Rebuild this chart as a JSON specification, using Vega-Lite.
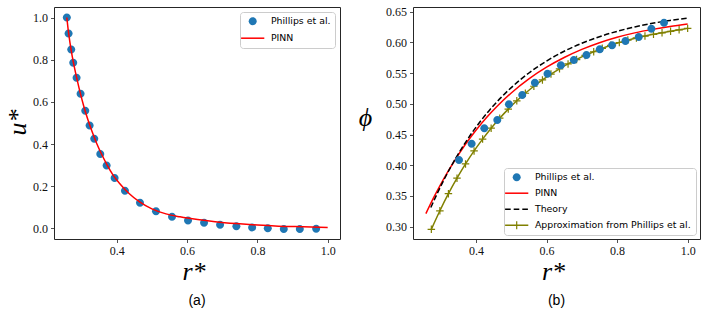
{
  "$schema": "https://vega.github.io/schema/vega-lite/v6.json",
  "padding": {"left": 3, "top": 5, "right": 0, "bottom": 0},
  "bounds": "flush",
  "spacing": 73,
  "config": {
    "view": {"stroke": "#262626", "strokeWidth": 1},
    "axis": {
      "labelFont": "Liberation Serif", "labelFontSize": 12, "labelColor": "#111111",
      "tickColor": "#262626", "tickSize": 3.5, "tickWidth": 0.8, "domain": false, "grid": false,
      "labelPadding": 3, "labelOverlap": false,
      "titleFont": "Liberation Serif", "titleFontStyle": "italic", "titleFontWeight": "normal",
      "titleFontSize": 26, "titleColor": "#000000"
    },
    "title": {"font": "Liberation Sans", "fontSize": 14, "fontWeight": "normal", "color": "#000000"}
  },
  "resolve": {
    "scale": {"color": "independent", "shape": "independent"},
    "legend": {"color": "independent", "shape": "independent"}
  },
  "datasets": {
    "u_phillips": [
      {"r": 0.258, "v": 1.0, "sa": "Phillips et al."},
      {"r": 0.263, "v": 0.924, "sa": "Phillips et al."},
      {"r": 0.2705, "v": 0.848, "sa": "Phillips et al."},
      {"r": 0.2762, "v": 0.786, "sa": "Phillips et al."},
      {"r": 0.2857, "v": 0.715, "sa": "Phillips et al."},
      {"r": 0.2971, "v": 0.639, "sa": "Phillips et al."},
      {"r": 0.3104, "v": 0.558, "sa": "Phillips et al."},
      {"r": 0.3228, "v": 0.488, "sa": "Phillips et al."},
      {"r": 0.336, "v": 0.425, "sa": "Phillips et al."},
      {"r": 0.3531, "v": 0.353, "sa": "Phillips et al."},
      {"r": 0.3712, "v": 0.298, "sa": "Phillips et al."},
      {"r": 0.3939, "v": 0.239, "sa": "Phillips et al."},
      {"r": 0.4233, "v": 0.179, "sa": "Phillips et al."},
      {"r": 0.4661, "v": 0.122, "sa": "Phillips et al."},
      {"r": 0.5116, "v": 0.081, "sa": "Phillips et al."},
      {"r": 0.5572, "v": 0.055, "sa": "Phillips et al."},
      {"r": 0.6027, "v": 0.038, "sa": "Phillips et al."},
      {"r": 0.6483, "v": 0.027, "sa": "Phillips et al."},
      {"r": 0.6939, "v": 0.017, "sa": "Phillips et al."},
      {"r": 0.7403, "v": 0.011, "sa": "Phillips et al."},
      {"r": 0.785, "v": 0.005, "sa": "Phillips et al."},
      {"r": 0.8296, "v": 0.001, "sa": "Phillips et al."},
      {"r": 0.8751, "v": -0.002, "sa": "Phillips et al."},
      {"r": 0.9207, "v": -0.002, "sa": "Phillips et al."},
      {"r": 0.9672, "v": -0.001, "sa": "Phillips et al."}
    ],
    "u_pinn": [
      {"r": 0.258, "v": 1.0}, {"r": 0.262, "v": 0.94}, {"r": 0.267, "v": 0.88},
      {"r": 0.273, "v": 0.82}, {"r": 0.28, "v": 0.76}, {"r": 0.288, "v": 0.70},
      {"r": 0.297, "v": 0.637}, {"r": 0.307, "v": 0.575}, {"r": 0.318, "v": 0.515},
      {"r": 0.33, "v": 0.458}, {"r": 0.343, "v": 0.403}, {"r": 0.357, "v": 0.352},
      {"r": 0.372, "v": 0.303}, {"r": 0.39, "v": 0.252}, {"r": 0.41, "v": 0.210},
      {"r": 0.435, "v": 0.166}, {"r": 0.465, "v": 0.126}, {"r": 0.5, "v": 0.093},
      {"r": 0.54, "v": 0.069}, {"r": 0.58, "v": 0.055}, {"r": 0.63, "v": 0.042},
      {"r": 0.68, "v": 0.032}, {"r": 0.74, "v": 0.023}, {"r": 0.8, "v": 0.016},
      {"r": 0.86, "v": 0.011}, {"r": 0.93, "v": 0.008}, {"r": 1.0, "v": 0.005}
    ],
    "phi_phillips": [
      {"r": 0.3519, "v": 0.4085, "sb": "Phillips et al."},
      {"r": 0.3877, "v": 0.4351, "sb": "Phillips et al."},
      {"r": 0.4236, "v": 0.4601, "sb": "Phillips et al."},
      {"r": 0.4604, "v": 0.4737, "sb": "Phillips et al."},
      {"r": 0.4934, "v": 0.4992, "sb": "Phillips et al."},
      {"r": 0.5311, "v": 0.5143, "sb": "Phillips et al."},
      {"r": 0.567, "v": 0.5344, "sb": "Phillips et al."},
      {"r": 0.6028, "v": 0.5491, "sb": "Phillips et al."},
      {"r": 0.6406, "v": 0.5626, "sb": "Phillips et al."},
      {"r": 0.6774, "v": 0.5713, "sb": "Phillips et al."},
      {"r": 0.7132, "v": 0.5795, "sb": "Phillips et al."},
      {"r": 0.7509, "v": 0.5887, "sb": "Phillips et al."},
      {"r": 0.7858, "v": 0.5952, "sb": "Phillips et al."},
      {"r": 0.8236, "v": 0.6023, "sb": "Phillips et al."},
      {"r": 0.8613, "v": 0.6088, "sb": "Phillips et al."},
      {"r": 0.8972, "v": 0.6223, "sb": "Phillips et al."},
      {"r": 0.933, "v": 0.6321, "sb": "Phillips et al."}
    ],
    "phi_pinn": [
      {"r": 0.258, "v": 0.3212}, {"r": 0.28, "v": 0.3472}, {"r": 0.30, "v": 0.3690},
      {"r": 0.32, "v": 0.3893}, {"r": 0.34, "v": 0.4081}, {"r": 0.36, "v": 0.4257},
      {"r": 0.38, "v": 0.4419}, {"r": 0.40, "v": 0.4570}, {"r": 0.43, "v": 0.4776},
      {"r": 0.46, "v": 0.4960}, {"r": 0.50, "v": 0.5177}, {"r": 0.55, "v": 0.5406},
      {"r": 0.60, "v": 0.5596}, {"r": 0.65, "v": 0.5754}, {"r": 0.70, "v": 0.5886},
      {"r": 0.75, "v": 0.5995}, {"r": 0.80, "v": 0.6084}, {"r": 0.85, "v": 0.6155},
      {"r": 0.90, "v": 0.6212}, {"r": 0.95, "v": 0.6260}, {"r": 1.0, "v": 0.6300}
    ],
    "phi_theory": [
      {"r": 0.272, "v": 0.3312}, {"r": 0.29, "v": 0.3538}, {"r": 0.31, "v": 0.3772},
      {"r": 0.33, "v": 0.3988}, {"r": 0.35, "v": 0.4186}, {"r": 0.37, "v": 0.4370},
      {"r": 0.39, "v": 0.4540}, {"r": 0.41, "v": 0.4696}, {"r": 0.44, "v": 0.4909},
      {"r": 0.47, "v": 0.5097}, {"r": 0.50, "v": 0.5264}, {"r": 0.55, "v": 0.5502},
      {"r": 0.60, "v": 0.5696}, {"r": 0.65, "v": 0.5856}, {"r": 0.70, "v": 0.5986},
      {"r": 0.75, "v": 0.6093}, {"r": 0.80, "v": 0.6180}, {"r": 0.85, "v": 0.6252},
      {"r": 0.90, "v": 0.6310}, {"r": 0.95, "v": 0.6358}, {"r": 1.0, "v": 0.6395}
    ],
    "phi_approx": [
      {"r": 0.2735, "v": 0.2957}, {"r": 0.2977, "v": 0.3259}, {"r": 0.3219, "v": 0.3537},
      {"r": 0.3462, "v": 0.3790}, {"r": 0.3704, "v": 0.4022}, {"r": 0.3946, "v": 0.4234},
      {"r": 0.4188, "v": 0.4426}, {"r": 0.443, "v": 0.4604}, {"r": 0.4673, "v": 0.4766},
      {"r": 0.4915, "v": 0.4914}, {"r": 0.5157, "v": 0.5049}, {"r": 0.5399, "v": 0.5172},
      {"r": 0.5641, "v": 0.5286}, {"r": 0.5884, "v": 0.5389}, {"r": 0.6126, "v": 0.5484},
      {"r": 0.6368, "v": 0.5570}, {"r": 0.661, "v": 0.5649}, {"r": 0.6852, "v": 0.5721},
      {"r": 0.7094, "v": 0.5788}, {"r": 0.7337, "v": 0.5848}, {"r": 0.7579, "v": 0.5903},
      {"r": 0.7821, "v": 0.5953}, {"r": 0.8063, "v": 0.5998}, {"r": 0.8305, "v": 0.6037},
      {"r": 0.8547, "v": 0.6072}, {"r": 0.879, "v": 0.6103}, {"r": 0.9032, "v": 0.6131},
      {"r": 0.9274, "v": 0.6156}, {"r": 0.9516, "v": 0.6180}, {"r": 0.9758, "v": 0.6204},
      {"r": 1.0, "v": 0.6228}
    ]
  },
  "hconcat": [
    {
      "width": 286,
      "height": 232,
      "title": {"text": "(a)", "orient": "bottom", "offset": 10},
      "encoding": {
        "x": {"field": "r", "type": "quantitative",
              "scale": {"domain": [0.2215, 1.035], "nice": false, "zero": false},
              "axis": {"values": [0.4, 0.6, 0.8, 1.0], "format": ".1f", "title": "r*",
                       "titleX": 139.5, "titleY": 40, "titleAlign": "center", "titleBaseline": "alphabetic"}},
        "y": {"field": "v", "type": "quantitative",
              "scale": {"domain": [-0.05, 1.05], "nice": false, "zero": false},
              "axis": {"values": [0, 0.2, 0.4, 0.6, 0.8, 1.0], "format": ".1f", "title": "u*",
                       "titleAngle": 270, "titleX": -29, "titleY": 115, "titleAlign": "center", "titleBaseline": "alphabetic"}}
      },
      "layer": [
        {
          "data": {"name": "u_phillips"},
          "mark": {"type": "point", "filled": true, "opacity": 1, "size": 64},
          "encoding": {
            "color": {"field": "sa", "type": "nominal",
                      "scale": {"domain": ["Phillips et al.", "PINN"], "range": ["#1f77b4", "#ff0000"]},
                      "legend": {"title": null, "orient": "top-right", "offset": 5, "padding": 4.5,
                                 "symbolOffset": 3.5, "labelOffset": 13.5, "rowPadding": 6, "symbolSize": 64,
                                 "symbolStrokeWidth": 0, "labelFont": "DejaVu Sans", "labelFontSize": 9.4,
                                 "labelColor": "#000000", "strokeColor": "#cccccc", "fillColor": "rgba(255,255,255,0.8)",
                                 "cornerRadius": 3}},
            "shape": {"field": "sa", "type": "nominal",
                      "scale": {"domain": ["Phillips et al.", "PINN"],
                                "range": ["M1,0A1,1,0,1,1,-1,0A1,1,0,1,1,1,0Z", "M-2.9,-0.19H2.9V0.19H-2.9Z"]}}
          }
        },
        {
          "data": {"name": "u_pinn"},
          "mark": {"type": "line", "color": "#ff0000", "strokeWidth": 1.5, "interpolate": "monotone"}
        }
      ]
    },
    {
      "width": 287,
      "height": 232,
      "title": {"text": "(b)", "orient": "bottom", "offset": 10},
      "encoding": {
        "x": {"field": "r", "type": "quantitative",
              "scale": {"domain": [0.2215, 1.035], "nice": false, "zero": false},
              "axis": {"values": [0.4, 0.6, 0.8, 1.0], "format": ".1f", "title": "r*",
                       "titleX": 140, "titleY": 40, "titleAlign": "center", "titleBaseline": "alphabetic"}},
        "y": {"field": "v", "type": "quantitative",
              "scale": {"domain": [0.28, 0.6576], "nice": false, "zero": false},
              "axis": {"values": [0.3, 0.35, 0.4, 0.45, 0.5, 0.55, 0.6, 0.65], "format": ".2f", "title": "ϕ",
                       "titleAngle": 0, "titleX": -48, "titleY": 118.5, "titleAlign": "center", "titleBaseline": "alphabetic"}}
      },
      "layer": [
        {
          "data": {"name": "phi_pinn"},
          "mark": {"type": "line", "color": "#ff0000", "strokeWidth": 1.5, "interpolate": "monotone"}
        },
        {
          "data": {"name": "phi_theory"},
          "mark": {"type": "line", "color": "#000000", "strokeWidth": 1.5, "strokeDash": [5.5, 2.4], "interpolate": "monotone"}
        },
        {
          "data": {"name": "phi_approx"},
          "mark": {"type": "line", "color": "#808000", "strokeWidth": 1.5, "interpolate": "monotone"}
        },
        {
          "data": {"name": "phi_approx"},
          "mark": {"type": "point", "shape": "M-1,0H1M0,-1V1", "filled": false, "stroke": "#808000", "strokeWidth": 1.2, "size": 56, "opacity": 1}
        },
        {
          "data": {"name": "phi_phillips"},
          "mark": {"type": "point", "filled": true, "opacity": 1, "size": 64},
          "encoding": {
            "color": {"field": "sb", "type": "nominal",
                      "scale": {"domain": ["Phillips et al.", "PINN", "Theory", "Approximation from Phillips et al."],
                                "range": ["#1f77b4", "#ff0000", "#000000", "#808000"]},
                      "legend": {"title": null, "orient": "bottom-right", "offset": 4.5, "padding": 4.5,
                                 "symbolOffset": 3.5, "labelOffset": 13.5, "rowPadding": 5, "symbolSize": 64,
                                 "symbolStrokeWidth": 0, "labelFont": "DejaVu Sans", "labelFontSize": 9.4,
                                 "labelColor": "#000000", "strokeColor": "#cccccc", "fillColor": "rgba(255,255,255,0.8)",
                                 "cornerRadius": 3}},
            "shape": {"field": "sb", "type": "nominal",
                      "scale": {"domain": ["Phillips et al.", "PINN", "Theory", "Approximation from Phillips et al."],
                                "range": ["M1,0A1,1,0,1,1,-1,0A1,1,0,1,1,1,0Z",
                                          "M-2.9,-0.19H2.9V0.19H-2.9Z",
                                          "M-2.9,-0.19H-1.5V0.19H-2.9Z M-0.75,-0.19H0.65V0.19H-0.75Z M1.4,-0.19H2.8V0.19H1.4Z",
                                          "M-2.9,-0.19H2.9V0.19H-2.9Z M-0.15,-1H0.15V1H-0.15Z"]}}
          }
        }
      ]
    }
  ]
}
